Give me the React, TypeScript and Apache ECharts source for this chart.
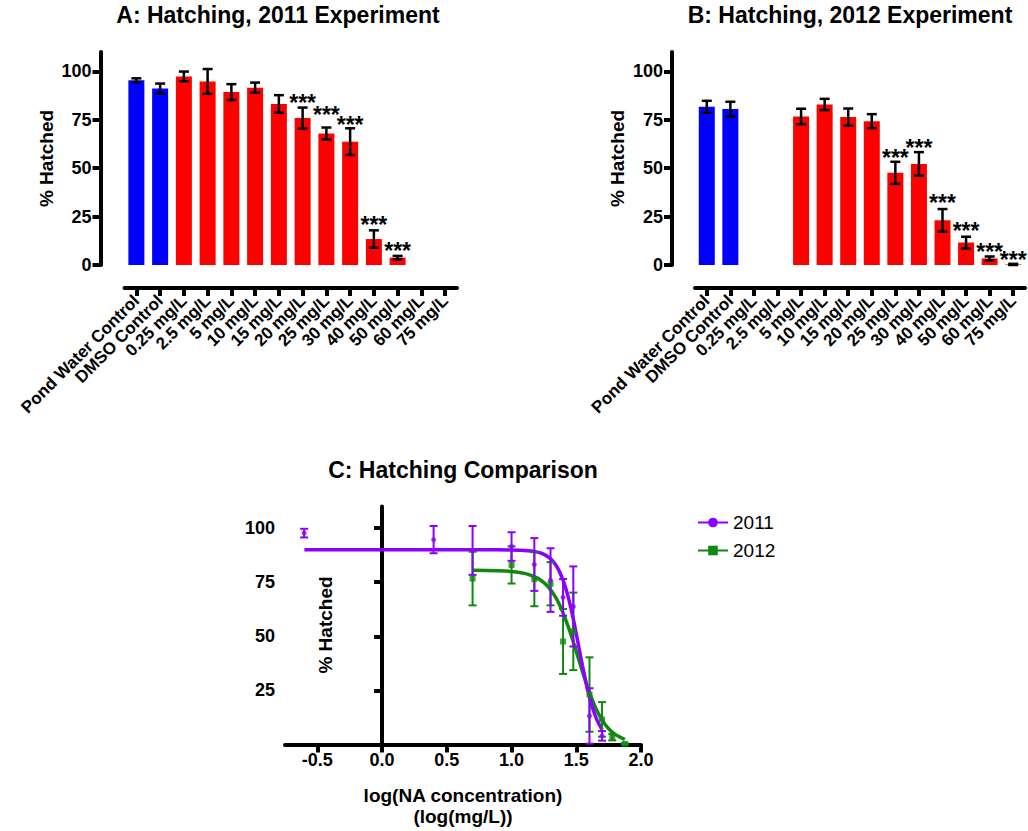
import React, { useEffect, useRef } from 'react';
import * as echarts from 'echarts';

const FONT = '"Liberation Sans", Arial, Helvetica, sans-serif';
const BLUE = '#0000ff';
const RED = '#ff0000';
const PURPLE = '#8b00ff';
const GREEN = '#118811';

// Panels A and B: treatment groups
const categories = [
  'Pond Water Control', 'DMSO Control', '0.25 mg/L', '2.5 mg/L', '5 mg/L', '10 mg/L', '15 mg/L',
  '20 mg/L', '25 mg/L', '30 mg/L', '40 mg/L', '50 mg/L', '60 mg/L', '75 mg/L',
];
const controlCount = 2;

// 2011 experiment: mean % hatched and SEM per group
const hatch2011 = [95.4, 91.1, 97.4, 94.8, 89.3, 91.6, 83.2, 75.9, 67.9, 63.7, 13.4, 3.8, null, null];
const sem2011 = [1.0, 2.6, 2.5, 6.4, 4.1, 2.6, 4.5, 5.4, 3.1, 6.9, 4.5, 0.9, null, null];
// height at which each significance marker sits
const stars2011 = [null, null, null, null, null, null, null, 86.5, 80.0, 75.0, 23.0, 9.8, null, null];

// 2012 experiment
const hatch2012 = [81.7, 80.5, null, null, 76.7, 82.9, 76.4, 74.3, 47.6, 52.2, 23.1, 11.6, 3.4, 0.3];
const sem2012 = [3.1, 3.8, null, null, 4.0, 2.9, 4.4, 3.6, 5.7, 6.1, 5.8, 3.0, 1.0, 0.3];
const stars2012 = [null, null, null, null, null, null, null, null, 57.8, 63.0, 34.8, 20.2, 9.3, 5.3];

const percentTicks = [0, 25, 50, 75, 100];

// Panel C: dose-response comparison (concentration in mg/L, mean and SD)
const conc2011 = [0.25, 2.5, 5, 10, 15, 20, 25, 30, 40, 50];
const mean2011 = [97.7, 94.7, 89.7, 91.5, 83.2, 76.0, 68.0, 63.8, 13.2, 4.0];
const sd2011 = [2.0, 6.3, 11.3, 6.6, 12.2, 14.7, 8.5, 18.5, 12.8, 2.2];
const conc2012 = [5, 10, 15, 20, 25, 30, 40, 50, 60, 75];
const mean2012 = [76.7, 83.0, 76.4, 74.3, 47.6, 52.3, 23.1, 11.6, 3.4, 0.3];
const sd2012 = [12.4, 8.6, 12.5, 10.0, 15.0, 17.9, 17.2, 8.0, 1.5, 0.3];

// nonlinear-regression curves, sampled along log concentration
const fitX2011 = [
  -0.6, 0.0, 0.5, 0.9, 1.0, 1.1, 1.15, 1.2, 1.225, 1.25, 1.275, 1.3, 1.325, 1.35, 1.375, 1.4, 1.425,
  1.45, 1.475, 1.5, 1.525, 1.55, 1.575, 1.6, 1.625, 1.65, 1.675, 1.7,
];
const fitY2011 = [
  90, 90, 90, 90, 89.9, 89.7, 89.4, 88.9, 88.5, 87.9, 87.0, 85.9, 84.3, 82.2, 79.3, 75.6, 70.9,
  65.2, 58.6, 51.2, 43.4, 35.8, 28.7, 22.4, 17.1, 12.8, 9.5, 6.9,
];
const fitX2012 = [
  0.699, 0.9, 1.0, 1.1, 1.15, 1.2, 1.25, 1.275, 1.3, 1.325, 1.35, 1.375, 1.4, 1.425, 1.45, 1.475,
  1.5, 1.525, 1.55, 1.575, 1.6, 1.65, 1.7, 1.75, 1.8, 1.875,
];
const fitY2012 = [
  80.5, 80.3, 80.0, 79.1, 78.2, 76.9, 74.8, 73.3, 71.6, 69.5, 67.0, 64.0, 60.5, 56.6, 52.4, 47.8,
  43.0, 38.1, 33.3, 28.6, 24.3, 16.9, 11.3, 7.3, 4.7, 2.3,
];

const logTicks = [-0.5, 0, 0.5, 1.0, 1.5, 2.0];
const hatchTicksC = [25, 50, 75, 100];

const black = '#000';
const axisLine = { show: true, onZero: false, lineStyle: { color: black, width: 4 } };
const axisTick = { show: true, length: 8, lineStyle: { color: black, width: 4 } };
const boldLabel = { color: black, fontFamily: FONT, fontWeight: 'bold' as const, fontSize: 18 };
const titleStyle = { fill: black, fontSize: 23, fontWeight: 'bold', fontFamily: FONT, align: 'center', verticalAlign: 'top' };

function errorBars(color: string, cap: number, width: number) {
  return (_params: any, api: any) => {
    const x = api.value(0);
    const m = api.value(1);
    const e = api.value(2);
    const hi = api.coord([x, m + e]);
    const lo = api.coord([x, Math.max(0, m - e)]);
    const style = { stroke: color, lineWidth: width };
    return {
      type: 'group',
      children: [
        { type: 'line', shape: { x1: hi[0], y1: hi[1], x2: lo[0], y2: lo[1] }, style },
        { type: 'line', shape: { x1: hi[0] - cap, y1: hi[1], x2: hi[0] + cap, y2: hi[1] }, style },
        { type: 'line', shape: { x1: lo[0] - cap, y1: lo[1], x2: lo[0] + cap, y2: lo[1] }, style },
      ],
    };
  };
}

function starMarks(_params: any, api: any) {
  const p = api.coord([api.value(0), api.value(1)]);
  return {
    type: 'text',
    x: p[0],
    y: p[1] + 5,
    style: {
      text: '***',
      fill: black,
      fontSize: 23,
      fontWeight: 'bold',
      fontFamily: FONT,
      align: 'center',
      verticalAlign: 'middle',
    },
  };
}

function barPanelSeries(axis: number, values: (number | null)[], errs: (number | null)[], stars: (number | null)[]) {
  const barData = values.map((v, i) =>
    v == null ? '-' : { value: v, itemStyle: { color: i < controlCount ? BLUE : RED } },
  );
  const errData: number[][] = [];
  values.forEach((v, i) => {
    if (v != null && errs[i] != null) errData.push([i, v, errs[i] as number]);
  });
  const starData: number[][] = [];
  stars.forEach((s, i) => {
    if (s != null) starData.push([i, s]);
  });
  return [
    { type: 'bar', xAxisIndex: axis, yAxisIndex: axis, barWidth: 16, data: barData },
    {
      type: 'custom', xAxisIndex: axis, yAxisIndex: axis, renderItem: errorBars(black, 5, 2.5),
      encode: { x: 0, y: 1 }, data: errData, z: 3,
    },
    {
      type: 'custom', xAxisIndex: axis, yAxisIndex: axis, renderItem: starMarks,
      encode: { x: 0, y: 1 }, data: starData, z: 4,
    },
  ];
}

function categoryAxis(gridIndex: number) {
  return {
    type: 'category',
    gridIndex,
    data: categories,
    offset: 23,
    axisLine,
    axisTick: { ...axisTick, alignWithLabel: true },
    axisLabel: { ...boldLabel, fontSize: 17, rotate: 45, interval: 0, margin: 10 },
    splitLine: { show: false },
  };
}

function percentAxis(gridIndex: number, offset: number) {
  return {
    type: 'value',
    gridIndex,
    min: 0,
    max: 110,
    offset,
    axisLine,
    axisTick: { ...axisTick, customValues: percentTicks },
    axisLabel: { ...boldLabel, margin: 9, customValues: percentTicks },
    splitLine: { show: false },
    name: '% Hatched',
    nameLocation: 'middle',
    nameGap: 45,
    nameTextStyle: { ...boldLabel, fontSize: 19 },
  };
}

function toPairs(xs: number[], ys: number[]) {
  return xs.map((x, i) => [x, ys[i]]);
}

function doseData(conc: number[], mean: number[]) {
  return conc.map((c, i) => [Math.log10(c), mean[i]]);
}

function doseErr(conc: number[], mean: number[], sd: number[]) {
  return conc.map((c, i) => [Math.log10(c), mean[i], sd[i]]);
}

function buildOption() {
  return {
    animation: false,
    textStyle: { fontFamily: FONT },
    graphic: [
      { type: 'text', x: 278, y: 3, style: { ...titleStyle, text: 'A: Hatching, 2011 Experiment' } },
      { type: 'text', x: 850, y: 3, style: { ...titleStyle, text: 'B: Hatching, 2012 Experiment' } },
      { type: 'text', x: 463, y: 458, style: { ...titleStyle, text: 'C: Hatching Comparison' } },
      {
        type: 'text', x: 325, y: 625, rotation: Math.PI / 2,
        style: { text: '% Hatched', fill: black, fontSize: 19, fontWeight: 'bold', fontFamily: FONT, align: 'center', verticalAlign: 'middle' },
      },
    ],
    legend: {
      left: 692,
      top: 508,
      orient: 'vertical',
      itemWidth: 30,
      itemHeight: 12,
      itemGap: 9,
      textStyle: { color: black, fontSize: 19, fontFamily: FONT },
      data: ['2011', '2012'],
    },
    grid: [
      { left: 124.5, top: 52, width: 332.5, height: 213 },
      { left: 695, top: 52, width: 330, height: 213 },
      { left: 285, top: 506.5, width: 356, height: 238 },
    ],
    xAxis: [
      categoryAxis(0),
      categoryAxis(1),
      {
        type: 'value',
        gridIndex: 2,
        min: -0.75,
        max: 2.0,
        axisLine: { ...axisLine, onZero: true },
        axisTick: { ...axisTick, customValues: logTicks },
        axisLabel: { ...boldLabel, margin: 6, customValues: logTicks, formatter: (v: number) => v.toFixed(1) },
        splitLine: { show: false },
        name: 'log(NA concentration)\n(log(mg/L))',
        nameLocation: 'middle',
        nameGap: 40,
        nameTextStyle: { ...boldLabel, fontSize: 19, lineHeight: 21 },
      },
    ],
    yAxis: [
      percentAxis(0, 24),
      percentAxis(1, 23),
      {
        type: 'value',
        gridIndex: 2,
        min: 0,
        max: 110,
        axisLine: { ...axisLine, onZero: true },
        axisTick: { ...axisTick, customValues: hatchTicksC },
        axisLabel: { ...boldLabel, margin: 10, customValues: hatchTicksC },
        splitLine: { show: false },
      },
    ],
    series: [
      ...barPanelSeries(0, hatch2011, sem2011, stars2011),
      ...barPanelSeries(1, hatch2012, sem2012, stars2012),
      {
        name: '2012', type: 'line', xAxisIndex: 2, yAxisIndex: 2, data: toPairs(fitX2012, fitY2012),
        smooth: 0.2, showSymbol: false, symbol: 'rect', symbolSize: 6,
        color: GREEN, lineStyle: { color: GREEN, width: 3.5 }, z: 2,
      },
      {
        name: '2011', type: 'line', xAxisIndex: 2, yAxisIndex: 2, data: toPairs(fitX2011, fitY2011),
        smooth: 0.2, showSymbol: false, symbol: 'circle', symbolSize: 6,
        color: PURPLE, lineStyle: { color: PURPLE, width: 3.5 }, z: 2,
      },
      {
        type: 'custom', xAxisIndex: 2, yAxisIndex: 2, renderItem: errorBars(GREEN, 4, 2),
        encode: { x: 0, y: 1 }, data: doseErr(conc2012, mean2012, sd2012), z: 3,
      },
      {
        type: 'custom', xAxisIndex: 2, yAxisIndex: 2, renderItem: errorBars(PURPLE, 4, 2),
        encode: { x: 0, y: 1 }, data: doseErr(conc2011, mean2011, sd2011), z: 3,
      },
      {
        type: 'scatter', xAxisIndex: 2, yAxisIndex: 2, data: doseData(conc2012, mean2012),
        symbol: 'rect', symbolSize: 6, itemStyle: { color: GREEN }, z: 4,
      },
      {
        type: 'scatter', xAxisIndex: 2, yAxisIndex: 2, data: doseData(conc2011, mean2011),
        symbol: 'circle', symbolSize: 5, itemStyle: { color: PURPLE }, z: 4,
      },
    ],
  };
}

export default function App() {
  const ref = useRef<HTMLDivElement>(null);
  useEffect(() => {
    if (!ref.current) return;
    const chart = echarts.init(ref.current, undefined, { renderer: 'svg' });
    chart.setOption(buildOption() as any);
    return () => chart.dispose();
  }, []);
  return (
    <div
      ref={ref}
      style={{ position: 'absolute', left: 0, top: 0, width: 1028, height: 831, background: '#fff' }}
    />
  );
}
